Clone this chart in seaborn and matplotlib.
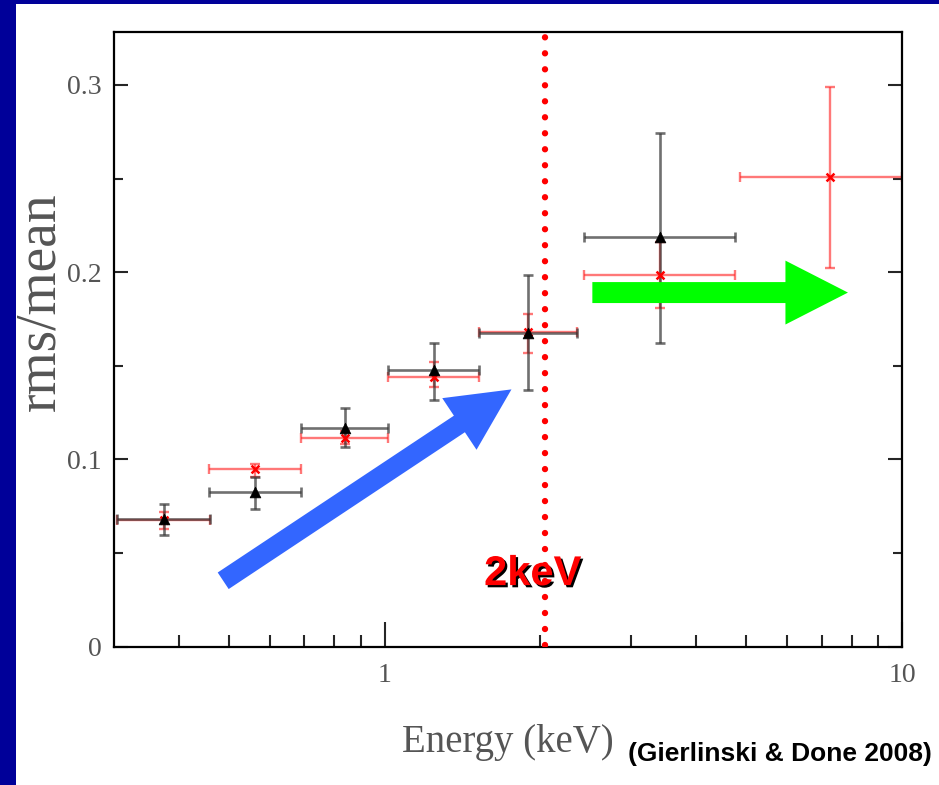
import numpy as np
import pandas as pd
import matplotlib
matplotlib.use("Agg")
import matplotlib.pyplot as plt
import matplotlib.patheffects as pe
from matplotlib.patches import Rectangle
from matplotlib.ticker import NullFormatter
import seaborn as sns

# ---------------- data ----------------
energy_black = [0.374, 0.5625, 0.84, 1.246, 1.895, 3.40]
elo_black = [0.304, 0.458, 0.691, 1.017, 1.522, 2.43]
ehi_black = [0.459, 0.691, 1.015, 1.522, 2.354, 4.76]
rms_black = [0.068, 0.0828, 0.1166, 0.1477, 0.1673, 0.2189]
rms_black_lo = [0.0596, 0.0733, 0.1068, 0.1317, 0.137, 0.1623]
rms_black_hi = [0.076, 0.0904, 0.1273, 0.162, 0.1985, 0.2744]

energy_red = [0.374, 0.5625, 0.84, 1.246, 1.895, 3.40, 7.25]
elo_red = [0.304, 0.458, 0.691, 1.017, 1.522, 2.43, 4.857]
ehi_red = [0.459, 0.691, 1.015, 1.522, 2.354, 4.76, 10.0]
rms_red = [0.0676, 0.0947, 0.1113, 0.1442, 0.168, 0.1985, 0.2506]
rms_red_lo = [0.063, 0.0908, 0.108, 0.1385, 0.1566, 0.1807, 0.202]
rms_red_hi = [0.072, 0.0975, 0.115, 0.152, 0.1776, 0.2162, 0.2987]

x_limits = (0.3, 10)
y_limits = (0, 0.3284)
x_major = [1, 10]
x_major_labels = ["1", "10"]
x_minor = [0.4, 0.5, 0.6, 0.7, 0.8, 0.9, 2, 3, 4, 5, 6, 7, 8, 9]
y_major = [0, 0.1, 0.2, 0.3]
y_major_labels = ["0", "0.1", "0.2", "0.3"]
y_minor = [0.05, 0.15, 0.25]

x_label = "Energy (keV)"
y_label = "rms/mean"
citation = "(Gierlinski & Done 2008)"

line_energy = 2.04
line_label = "2keV"
line_label_pos = (1.557, 0.0329)
blue_arrow_tail = (0.4877, 0.0352)
blue_arrow_tip = (1.759, 0.1374)
green_arrow_tail = (2.521, 0.1891)
green_arrow_tip = (7.862, 0.1891)

# ---------------- style ----------------
sns.set_style("white")
plt.rcParams["font.family"] = ["Liberation Serif", "DejaVu Serif"]

fig = plt.figure(figsize=(9.39, 7.85), dpi=100)
fig.patch.set_facecolor("white")
navy = "#000099"
fig.patches.append(Rectangle((0, 0), 16 / 939, 1, transform=fig.transFigure,
                             facecolor=navy, edgecolor="none", zorder=-1))
fig.patches.append(Rectangle((0, 1 - 4 / 785), 1, 4 / 785, transform=fig.transFigure,
                             facecolor=navy, edgecolor="none", zorder=-1))

ax = fig.add_axes([114 / 939, 1 - 646.7 / 785, 788 / 939, 615 / 785])
ax.set_xscale("log")
ax.set_xlim(*x_limits)
ax.set_ylim(*y_limits)

df_black = pd.DataFrame({"energy": energy_black, "rms": rms_black})
df_red = pd.DataFrame({"energy": energy_red, "rms": rms_red})

e_r = np.array(energy_red)
r_r = np.array(rms_red)
ax.errorbar(e_r, r_r,
            xerr=[e_r - np.array(elo_red), np.array(ehi_red) - e_r],
            yerr=[r_r - np.array(rms_red_lo), np.array(rms_red_hi) - r_r],
            fmt="none", ecolor="#ff3030", elinewidth=1.7, capsize=3.5,
            capthick=1.7, alpha=0.65, zorder=2, clip_on=True)
e_b = np.array(energy_black)
r_b = np.array(rms_black)
ax.errorbar(e_b, r_b,
            xerr=[e_b - np.array(elo_black), np.array(ehi_black) - e_b],
            yerr=[r_b - np.array(rms_black_lo), np.array(rms_black_hi) - r_b],
            fmt="none", ecolor="#333333", elinewidth=1.9, capsize=3.5,
            capthick=1.9, alpha=0.7, zorder=3)

sns.scatterplot(data=df_red, x="energy", y="rms", marker="x", color="red",
                s=32, linewidth=1.8, ax=ax, zorder=4, legend=False)
sns.scatterplot(data=df_black, x="energy", y="rms", marker="^", color="black",
                s=60, edgecolor="black", linewidth=0.5, ax=ax, zorder=5, legend=False)

# ticks
ax.set_xticks(x_major, labels=x_major_labels)
ax.set_xticks(x_minor, minor=True)
ax.xaxis.set_minor_formatter(NullFormatter())
ax.set_yticks(y_major, labels=y_major_labels)
ax.set_yticks(y_minor, minor=True)
ax.tick_params(axis="x", which="major", direction="in", length=18, width=1.5,
               bottom=True, top=False, labelsize=20, pad=12, labelcolor="#555555")
ax.tick_params(axis="x", which="minor", direction="in", length=8.5, width=1.5,
               bottom=True, top=False)
ax.tick_params(axis="y", which="major", direction="in", length=10, width=1.5,
               left=True, right=True, labelsize=20, pad=9, labelcolor="#555555")
ax.tick_params(axis="y", which="minor", direction="in", length=6.5, width=1.5,
               left=True, right=True)
for sp in ax.spines.values():
    sp.set_visible(True)
    sp.set_linewidth(1.6)
    sp.set_color("black")

ax.set_xlabel(x_label, fontsize=28, color="#555555", va="center")
ax.xaxis.set_label_coords(0.5, -0.155)
ax.set_ylabel(y_label, fontsize=40, color="#555555", va="center")
ax.yaxis.set_label_coords(-0.094, 0.5605)

# overlays
ax.axvline(line_energy, ymin=0.003, ymax=0.9935, color="red", linewidth=4.6,
           linestyle=(0, (0.001, 2.502)), dash_capstyle="round", zorder=6)

ax.text(line_label_pos[0], line_label_pos[1], line_label, fontsize=30,
        fontweight="bold", color="red", family=["Liberation Sans", "DejaVu Sans"],
        ha="left", va="baseline", zorder=7,
        path_effects=[pe.withSimplePatchShadow(offset=(1.6, -1.6),
                                               shadow_rgbFace="black", alpha=1.0)])

ax.annotate("", xy=blue_arrow_tip, xytext=blue_arrow_tail,
            arrowprops=dict(arrowstyle="simple,head_length=45,head_width=44.6,tail_width=14.3",
                            mutation_scale=1, color="#3366ff", shrinkA=0, shrinkB=0,
                            linewidth=0),
            zorder=8)
ax.annotate("", xy=green_arrow_tip, xytext=green_arrow_tail,
            arrowprops=dict(arrowstyle="simple,head_length=45,head_width=46,tail_width=15.1",
                            mutation_scale=1, color="#00ff00", shrinkA=0, shrinkB=0,
                            linewidth=0),
            zorder=8)

fig.text(628.3 / 939, 1 - 760.7 / 785, citation, fontsize=19, fontweight="bold",
         color="black", family=["Liberation Sans", "DejaVu Sans"],
         ha="left", va="baseline")

fig.savefig("out.png", dpi=100, facecolor="white")
